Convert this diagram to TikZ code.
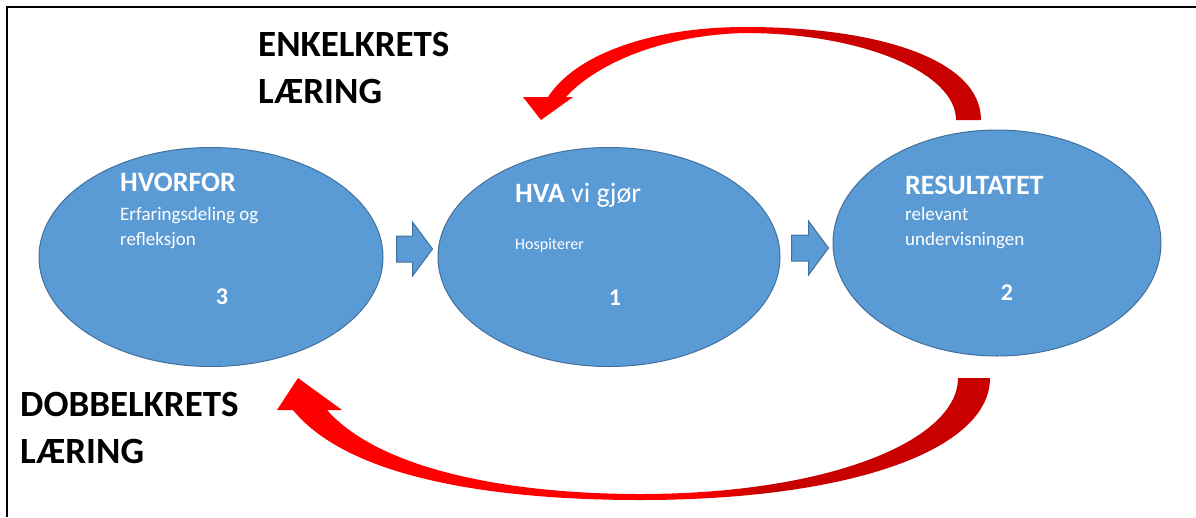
\documentclass[tikz,border=0pt]{standalone}
\usepackage{fontspec}
\setmainfont{Carlito}
\usetikzlibrary{shapes.geometric}
\usetikzlibrary{calc}

\definecolor{bubblefill}{HTML}{5B9BD5}
\definecolor{bubbleline}{HTML}{41719C}
\definecolor{loopred}{HTML}{FF0000}
\definecolor{loopdark}{HTML}{C80000}

\pgfdeclarehorizontalshading{enkelshade}{100bp}{color(0bp)=(loopred); color(49bp)=(loopred); color(56bp)=(loopdark); color(100bp)=(loopdark)}
\pgfdeclarehorizontalshading{dobbelshade}{100bp}{color(0bp)=(loopred); color(54bp)=(loopred); color(59bp)=(loopdark); color(100bp)=(loopdark)}

% block arrow from #1 to the tip #2
\newcommand{\blockarr}[2]{%
	\filldraw[blk] ($(#1)+(0,-13)$) -- ($(#2)+(-20,-13)$) -- ($(#2)+(-20,-27)$) -- (#2)
	-- ($(#2)+(-20,27)$) -- ($(#2)+(-20,13)$) -- ($(#1)+(0,13)$) -- cycle;}

\begin{document}
\begin{tikzpicture}[x=1pt, y=-1pt,
	set/.style = {ellipse, inner sep=0pt,
		fill=bubblefill, draw=bubbleline, line width=1pt},
	head/.style = {white, inner sep=0pt, anchor=west,
		font=\fontsize{28}{34}\selectfont\bfseries},
	body/.style = {white, inner sep=0pt, anchor=west, align=left,
		font=\fontsize{19}{25}\selectfont},
	num/.style = {white, inner sep=0pt,
		font=\fontsize{24}{28}\selectfont\bfseries},
	loop/.style = {black, inner sep=0pt, anchor=west, align=left,
		font=\fontsize{37}{47}\selectfont\bfseries},
	blk/.style = {fill=bubblefill, draw=bubbleline, line width=1pt}]
	
	\useasboundingbox (0,0) rectangle (1196,517);
	
	% Frame
	\draw[line width=2pt] (7,517) -- (7,7) -- (1196,7);
	
	% Step 3
	\node[set, minimum width=344pt, minimum height=219pt] (E3) at (211,257) {};
	\node[head] (hvorfor) at (120,182) {HVORFOR};
	\node[body] (erfaring) at (120,228) {Erfaringsdeling og\\refleksjon};
	\node[num] (n3) at (222,297) {3};
	
	% Step 1
	\node[set, minimum width=342pt, minimum height=219pt] (E1) at (609,257) {};
	\node[head] (hva) at (515,195) {HVA \mdseries vi gjør};
	\node[body, font=\fontsize{16}{20}\selectfont] (hosp) at (515,245) {Hospiterer};
	\node[num] (n1) at (615,298) {1};
	
	% Step 2
	\node[set, minimum width=328pt, minimum height=226pt] (E2) at (997,243) {};
	\node[head] (resultat) at (905,185) {RESULTATET};
	\node[body] (relevant) at (905,228) {relevant\\undervisningen};
	\node[num] (n2) at (1007,293) {2};
	
	% Block arrows
	\blockarr{$(E3.east)+(13,-8)$}{$(E1.west)+(-5,-8)$}
	\blockarr{$(E1.east)+(11,-9)$}{$(E2.west)+(-4,5)$}
	
	% Single loop
	\shade[shading=enkelshade] (981,120) -- (956,120)
		.. controls (956,72) and (860,33) .. (745,33)
		.. controls (660,35) and (595,65) .. (566,97)
		-- (573,97) -- (541,120) -- (523,97) -- (548,97)
		.. controls (575,55) and (650,27) .. (745,27)
		.. controls (880,27) and (981,60) .. (981,120) -- cycle;
	\node[loop] (enkel) at (258,68) {ENKELKRETS\\LÆRING};
	
	% Double loop
	\shade[shading=dobbelshade] (958,378) -- (990,378)
		.. controls (990,450) and (850,500) .. (640,500)
		.. controls (500,500) and (350,480) .. (293,410)
		-- (277,410) -- (298,378) -- (342,410) -- (327,410)
		.. controls (380,470) and (510,494) .. (640,494)
		.. controls (830,494) and (958,440) .. (958,378) -- cycle;
	\node[loop] (dobbel) at (20,428) {DOBBELKRETS\\LÆRING};
	
\end{tikzpicture}
\end{document}
